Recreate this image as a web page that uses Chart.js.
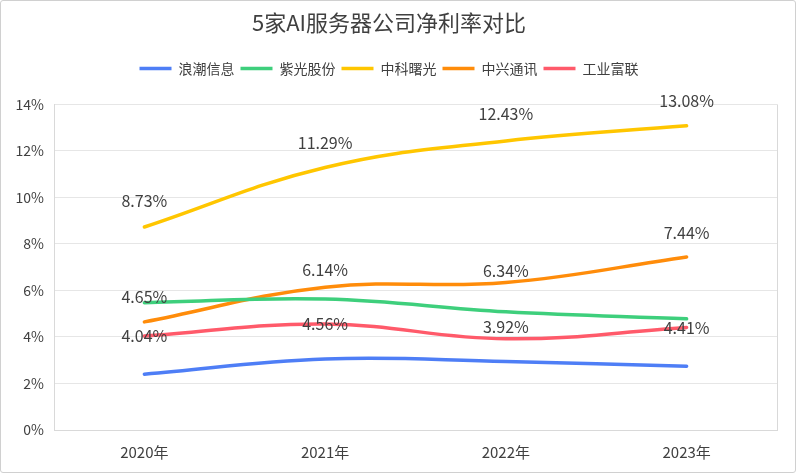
<!DOCTYPE html>
<html>
<head>
<meta charset="utf-8">
<script src="https://cdn.jsdelivr.net/npm/chart.js@4.4.1/dist/chart.umd.min.js"></script>
<style>
  html, body { margin: 0; padding: 0; background: #fff; }
  #wrap { width: 796px; height: 473px; box-sizing: border-box; border: 1px solid #d0d0d0; border-radius: 3px; }
</style>
</head>
<body>
<div id="wrap"><canvas id="myChart" width="794" height="471"></canvas></div>
<script>
// 年份
const years = ['2020年', '2021年', '2022年', '2023年'];

// 净利率 (%)
const langchao = [2.40, 3.05, 2.94, 2.74];
const ziguang = [5.47, 5.63, 5.08, 4.78];
const zhongke = [8.73, 11.29, 12.43, 13.08];
const zhongxing = [4.65, 6.14, 6.34, 7.44];
const gongye = [4.04, 4.56, 3.92, 4.41];

const yTicks = [0, 2, 4, 6, 8, 10, 12, 14];

const FONT = '"Noto Sans CJK SC", "Microsoft YaHei", sans-serif';

// 标签位置 (相对数据点的纵向偏移, 没有的就不显示)
const labelOffsets = {
  2: [-26, -25, -27, -25],
  3: [-25, -17, -12, -24],
  4: [0, 0, -12, 0]
};

const pointLabels = {
  id: 'pointLabels',
  afterDatasetsDraw(chart) {
    const ctx = chart.ctx;
    ctx.save();
    ctx.font = '16px ' + FONT;
    ctx.fillStyle = '#404040';
    ctx.textAlign = 'center';
    ctx.textBaseline = 'middle';
    Object.keys(labelOffsets).forEach(i => {
      const meta = chart.getDatasetMeta(+i);
      const ds = chart.data.datasets[i];
      meta.data.forEach((pt, j) => {
        ctx.fillText(ds.data[j].toFixed(2) + '%', pt.x, pt.y + labelOffsets[i][j]);
      });
    });
    ctx.restore();
  }
};

// 绘图区右边框
const rightBorder = {
  id: 'rightBorder',
  beforeDatasetsDraw(chart) {
    const a = chart.chartArea;
    const ctx = chart.ctx;
    ctx.save();
    ctx.strokeStyle = '#d9d9d9';
    ctx.lineWidth = 1;
    ctx.beginPath();
    ctx.moveTo(Math.round(a.right) + 0.5, a.top);
    ctx.lineTo(Math.round(a.right) + 0.5, a.bottom);
    ctx.stroke();
    ctx.restore();
  }
};

// 图例下方留白
const legendGap = {
  id: 'legendGap',
  beforeInit(chart) {
    const fit = chart.legend.fit;
    chart.legend.fit = function () {
      fit.call(this);
      this.height += 19;
    };
  }
};

function line(label, data, color) {
  return {
    label: label,
    data: data,
    borderColor: color,
    backgroundColor: color,
    borderWidth: 3.5,
    borderCapStyle: 'round',
    tension: 0.4,
    pointRadius: 0,
    pointHoverRadius: 0
  };
}

const ctx = document.getElementById('myChart');
new Chart(ctx, {
  type: 'line',
  data: {
    labels: years,
    datasets: [
      line('浪潮信息', langchao, '#4e7ef6'),
      line('紫光股份', ziguang, '#3ecf7c'),
      line('中科曙光', zhongke, '#ffc600'),
      line('中兴通讯', zhongxing, '#ff8c0a'),
      line('工业富联', gongye, '#ff5a6a')
    ]
  },
  options: {
    responsive: false,
    animation: false,
    layout: { padding: { left: 0, right: 18, top: 0, bottom: 6 } },
    plugins: {
      title: {
        display: true,
        text: '5家AI服务器公司净利率对比',
        color: '#404040',
        font: { family: FONT, size: 22, weight: 'normal' },
        padding: { top: 8, bottom: 20 }
      },
      legend: {
        labels: {
          usePointStyle: true,
          pointStyle: 'line',
          pointStyleWidth: 32,
          color: '#404040',
          font: { family: FONT, size: 14 },
          padding: 6
        }
      },
      tooltip: { enabled: false }
    },
    scales: {
      x: {
        offset: true,
        grid: { display: false },
        border: { display: true, color: '#d9d9d9' },
        ticks: { color: '#404040', font: { family: FONT, size: 15 }, padding: 5 }
      },
      y: {
        min: 0,
        max: 14,
        afterBuildTicks: s => { s.ticks = yTicks.map(v => ({ value: v })); },
        afterFit: s => { s.width = 53; },
        grid: { color: '#e6e6e6', drawTicks: false },
        border: { display: true, color: '#d9d9d9' },
        ticks: { color: '#404040', font: { family: FONT, size: 14 }, padding: 10, callback: v => v + '%' }
      }
    }
  },
  plugins: [pointLabels, rightBorder, legendGap]
});
</script>
</body>
</html>
